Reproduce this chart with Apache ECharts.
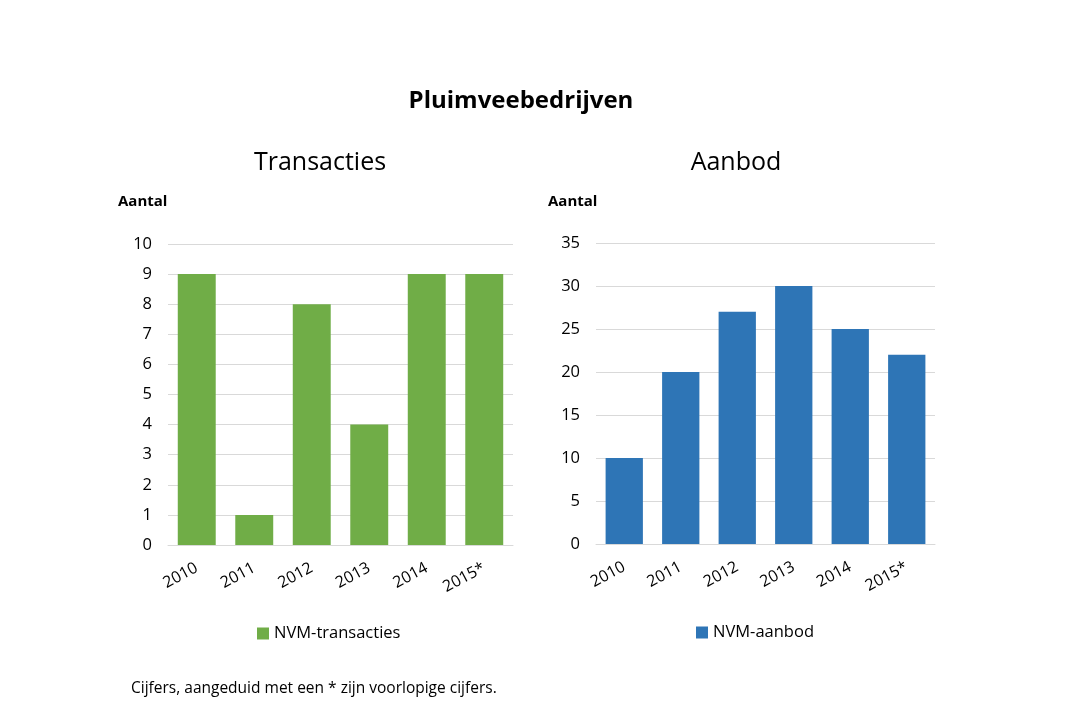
<!DOCTYPE html>
<html>
<head>
<meta charset="utf-8">
<script src="https://cdn.jsdelivr.net/npm/echarts@6/dist/echarts.min.js"></script>
<style>
	html, body { margin: 0; padding: 0; background: #fff; }
	#chart { width: 1070px; height: 713px; }
</style>
</head>
<body>
<div id="chart"></div>
<script>
var years = ['2010', '2011', '2012', '2013', '2014', '2015*'];
var transacties = [9, 1, 8, 4, 9, 9];
var aanbod = [10, 20, 27, 30, 25, 22];

var font = '"Open Sans", "Noto Sans", sans-serif';
var gridLine = { lineStyle: { color: '#d9d9d9', width: 1 } };

var mainChart = echarts.init(document.getElementById('chart'));

function catAxis(gridIndex) {
	return {
		type: 'category',
		gridIndex: gridIndex,
		data: years,
		axisLine: { lineStyle: { color: '#d9d9d9' } },
		axisTick: { show: false },
		axisLabel: {
			rotate: 28,
			margin: 22,
			color: '#000',
			fontSize: 16,
			fontFamily: font
		}
	};
}

function valAxis(gridIndex, max, interval) {
	return {
		type: 'value',
		gridIndex: gridIndex,
		min: 0,
		max: max,
		interval: interval,
		axisLine: { show: false },
		axisTick: { show: false },
		splitLine: gridLine,
		axisLabel: {
			color: '#000',
			fontSize: 16.5,
			margin: 16,
			fontFamily: font
		}
	};
}

mainChart.setOption({
	animation: false,
	textStyle: { fontFamily: font },
	title: [{
			text: 'Pluimveebedrijven',
			left: 516,
			top: 84,
			textAlign: 'center',
			textStyle: { fontSize: 24, fontWeight: 'bold', color: '#000', fontFamily: font }
		}, {
			text: 'Transacties',
			left: 315,
			top: 145,
			textAlign: 'center',
			textStyle: { fontSize: 25, fontWeight: 'normal', color: '#000', fontFamily: font }
		}, {
			text: 'Aanbod',
			left: 731,
			top: 145,
			textAlign: 'center',
			textStyle: { fontSize: 25, fontWeight: 'normal', color: '#000', fontFamily: font }
		}, {
			text: 'Aantal',
			left: 113,
			top: 189,
			textStyle: { fontSize: 15, fontWeight: 'bold', color: '#000', fontFamily: font }
		}, {
			text: 'Aantal',
			left: 543,
			top: 189,
			textStyle: { fontSize: 15, fontWeight: 'bold', color: '#000', fontFamily: font }
		}, {
			text: 'Cijfers, aangeduid met een * zijn voorlopige cijfers.',
			left: 126,
			top: 676,
			textStyle: { fontSize: 15.5, fontWeight: 'normal', color: '#000', fontFamily: font }
		}
	],
	legend: [{
			data: ['NVM-transacties'],
			left: 252,
			top: 620,
			icon: 'rect',
			itemWidth: 12,
			itemHeight: 12,
			itemGap: 4,
			selectedMode: false,
			textStyle: { fontSize: 16.5, color: '#000', fontFamily: font }
		}, {
			data: ['NVM-aanbod'],
			left: 691,
			top: 619,
			icon: 'rect',
			itemWidth: 12,
			itemHeight: 12,
			itemGap: 4,
			selectedMode: false,
			textStyle: { fontSize: 16.5, color: '#000', fontFamily: font }
		}
	],
	grid: [{
			left: 168,
			right: 557,
			top: 244,
			bottom: 168
		}, {
			left: 596,
			right: 135,
			top: 243,
			bottom: 169
		}
	],
	xAxis: [catAxis(0), catAxis(1)],
	yAxis: [valAxis(0, 10, 1), valAxis(1, 35, 5)],
	series: [{
			name: 'NVM-transacties',
			type: 'bar',
			xAxisIndex: 0,
			yAxisIndex: 0,
			barWidth: '66%',
			itemStyle: { color: '#70ad47' },
			data: transacties
		}, {
			name: 'NVM-aanbod',
			type: 'bar',
			xAxisIndex: 1,
			yAxisIndex: 1,
			barWidth: '66%',
			itemStyle: { color: '#2e75b6' },
			data: aanbod
		}
	]
});
</script>
</body>
</html>
